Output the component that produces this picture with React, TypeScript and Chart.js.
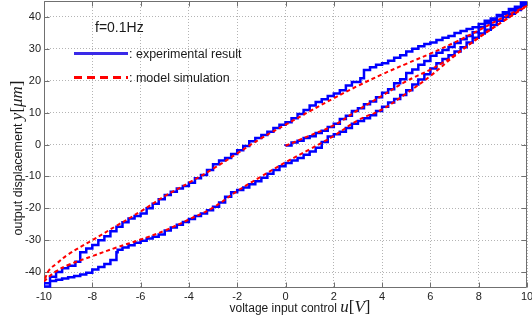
import React, { useEffect, useRef } from 'react';
import { Chart, registerables } from 'chart.js';

Chart.register(...registerables);

// ---- tick labels ----
const xTicks = [-10, -8, -6, -4, -2, 0, 2, 4, 6, 8, 10];
const yTicks = [-40, -30, -20, -10, 0, 10, 20, 30, 40];

// ---- experimental result (staircase) ----
// initial curve from origin
const expInitU = [0, 0.25, 0.5, 0.75, 1, 1.25, 1.5, 1.75, 2, 2.25, 2.5, 2.75, 3, 3.25, 3.5, 3.75, 4, 4.25, 4.5, 4.75, 5, 5.25, 5.5, 5.75, 6, 6.25, 6.5, 6.75, 7, 7.25, 7.5, 7.75, 8, 8.25, 8.5, 8.75, 9, 9.25, 9.5, 9.75, 10];
const expInitY = [-0.5, -0.3, 0.6, 1.2, 2.0, 2.6, 3.6, 4.3, 5.5, 6.5, 8.0, 9.0, 10.5, 11.4, 12.6, 13.5, 14.8, 16.2, 17.3, 19.2, 20.5, 22.4, 23.5, 25.0, 26.2, 27.8, 28.8, 29.6, 30.6, 31.8, 33.0, 34.0, 35.2, 36.8, 38.0, 39.0, 40.2, 41.0, 42.0, 43.0, 44.5];
// descending branch
const expDownU = [10, 9.75, 9.5, 9.25, 9, 8.75, 8.5, 8.25, 8, 7.75, 7.5, 7.25, 7, 6.75, 6.5, 6.25, 6, 5.75, 5.5, 5.25, 5, 4.75, 4.5, 4.25, 4, 3.75, 3.5, 3.25, 3.1, 2.75, 2.5, 2.25, 2, 1.75, 1.5, 1.25, 1, 0.75, 0.5, 0.25, 0, -0.25, -0.5, -0.75, -1, -1.25, -1.5, -1.75, -2, -2.25, -2.5, -2.75, -3, -3.25, -3.5, -3.75, -4, -4.25, -4.5, -4.75, -5, -5.25, -5.5, -5.75, -6, -6.25, -6.5, -6.75, -7, -7.25, -7.5, -7.75, -8, -8.25, -8.5, -8.7, -9, -9.25, -9.5, -9.75, -10];
const expDownY = [44.5, 44.0, 43.2, 42.5, 41.5, 40.6, 39.5, 38.8, 37.8, 36.8, 36.2, 35.6, 35.0, 34.0, 33.5, 32.8, 32.0, 31.5, 30.8, 30.0, 29.2, 28.0, 27.2, 26.3, 25.5, 25.0, 24.2, 23.4, 20.8, 19.6, 18.5, 17.0, 16.0, 15.2, 14.2, 13.3, 12.2, 10.8, 9.6, 8.2, 7.0, 6.2, 5.2, 4.0, 3.0, 2.0, 1.0, -0.5, -1.8, -3.0, -4.2, -5.0, -6.2, -8.0, -9.6, -10.6, -12.0, -13.0, -13.8, -14.8, -15.8, -17.2, -18.6, -20.0, -21.6, -22.4, -23.2, -24.4, -25.8, -27.2, -28.8, -30.0, -31.5, -32.6, -33.8, -36.8, -38.0, -38.8, -40.0, -41.5, -44.5];
// ascending branch
const expUpU = [-10, -9.75, -9.5, -9.25, -9, -8.75, -8.5, -8.25, -8, -7.75, -7.5, -7.25, -7, -6.95, -6.75, -6.5, -6.25, -6, -5.75, -5.5, -5.25, -5, -4.75, -4.5, -4.25, -4, -3.75, -3.5, -3.25, -3, -2.75, -2.5, -2.25, -2, -1.75, -1.5, -1.25, -1, -0.75, -0.5, -0.25, 0, 0.25, 0.5, 0.75, 1, 1.25, 1.5, 1.75, 2, 2.25, 2.5, 2.75, 3, 3.25, 3.5, 3.75, 4, 4.25, 4.5, 4.75, 5, 5.25, 5.5, 5.75, 6, 6.25, 6.5, 6.75, 7, 7.25, 7.5, 7.75, 8, 8.25, 8.5, 8.75, 9, 9.25, 9.5, 9.75, 10];
const expUpY = [-44.5, -43.5, -42.8, -42.4, -42.0, -41.6, -41.2, -40.8, -40.2, -39.2, -38.4, -37.5, -36.2, -33.8, -33.0, -32.3, -31.6, -30.8, -30.2, -29.5, -28.9, -28.2, -27.0, -26.0, -25.2, -24.3, -23.4, -22.4, -21.6, -20.6, -19.5, -18.2, -16.4, -15.0, -14.3, -13.5, -12.5, -11.5, -10.4, -9.2, -8.0, -6.8, -5.8, -5.0, -4.2, -3.2, -2.2, -1.0, 0.8, 2.5, 3.2, 4.0, 5.2, 6.5, 7.4, 8.2, 9.2, 10.5, 11.8, 13.2, 14.3, 15.5, 17.0, 18.8, 20.4, 22.0, 23.8, 25.5, 26.8, 28.0, 29.2, 30.5, 32.0, 33.5, 34.8, 36.0, 37.5, 38.8, 40.0, 41.0, 42.2, 43.5];

// ---- model simulation ----
const modInitU = [0, 1, 2, 3, 4, 5, 6, 6.5, 7, 8, 9, 10];
const modInitY = [-0.4, 2.8, 6.0, 10.8, 15.3, 19.8, 23.5, 25.6, 28.0, 33.5, 38.6, 43.5];
const modDownU = [10, 9, 8, 7, 6, 5, 4, 3, 2, 1, 0, -1, -2, -3, -4, -5, -6, -7, -8, -9, -9.5, -9.8, -10];
const modDownY = [43.5, 39.8, 35.8, 32.0, 28.5, 25.3, 22.0, 18.4, 14.5, 10.4, 6.2, 2.0, -2.8, -7.6, -12.0, -16.2, -21.0, -25.5, -30.0, -34.5, -37.5, -39.5, -43.0];
const modUpU = [-10, -9.8, -9.5, -9, -8, -7, -6, -5, -4, -3, -2, -1, 0, 1, 2, 3, 4, 5, 6, 7, 8, 9, 10];
const modUpY = [-43.0, -41.5, -39.8, -37.8, -35.0, -32.3, -29.8, -27.0, -23.5, -19.8, -14.6, -10.0, -5.6, -1.5, 2.7, 7.6, 11.0, 16.0, 21.5, 27.8, 33.5, 38.6, 43.5];

const zip = (u: number[], y: number[]) => u.map((x, i) => ({ x, y: y[i] }));

const BLUE = '#0000ff';
const RED = '#ff0000';
const AXIS = '#707070';
const GRID = '#b4b4b4';
const SANS = "'Liberation Sans', Arial, sans-serif";
const SERIF = "'Liberation Serif', 'Times New Roman', serif";

type Part = { t: string; f: string };

function drawParts(ctx: CanvasRenderingContext2D, parts: Part[], cx: number, baseline: number) {
  let total = 0;
  for (const p of parts) {
    ctx.font = p.f;
    total += ctx.measureText(p.t).width;
  }
  let x = cx - total / 2;
  for (const p of parts) {
    ctx.font = p.f;
    ctx.fillText(p.t, x, baseline);
    x += ctx.measureText(p.t).width;
  }
}

const decorPlugin = {
  id: 'decor',
  beforeDatasetsDraw(chart: any) {
    const { ctx, chartArea: a, scales } = chart;
    const xs = scales.x;
    const ys = scales.y;
    ctx.save();
    ctx.strokeStyle = AXIS;
    ctx.lineWidth = 1;
    const L = Math.round(a.left) + 0.5;
    const R = Math.round(a.right) - 0.5;
    const T = Math.round(a.top) + 0.5;
    const B = Math.round(a.bottom) - 0.5;
    ctx.beginPath();
    ctx.rect(L, T, R - L, B - T);
    for (const v of xTicks) {
      const px = Math.round(xs.getPixelForValue(v)) + 0.5;
      ctx.moveTo(px, B);
      ctx.lineTo(px, B - 5);
      ctx.moveTo(px, T);
      ctx.lineTo(px, T + 5);
    }
    for (const v of yTicks) {
      const py = Math.round(ys.getPixelForValue(v)) + 0.5;
      ctx.moveTo(L, py);
      ctx.lineTo(L + 5, py);
      ctx.moveTo(R, py);
      ctx.lineTo(R - 5, py);
    }
    ctx.stroke();
    ctx.restore();
  },
  afterDraw(chart: any) {
    const { ctx } = chart;
    ctx.save();
    ctx.fillStyle = '#1a1a1a';
    ctx.textBaseline = 'alphabetic';
    ctx.textAlign = 'left';

    // x axis title
    drawParts(ctx, [
      { t: 'voltage input control ', f: `12px ${SANS}` },
      { t: 'u', f: `italic 17px ${SERIF}` },
      { t: '[', f: `17px ${SERIF}` },
      { t: 'V', f: `italic 17px ${SERIF}` },
      { t: ']', f: `17px ${SERIF}` },
    ], 300, 312);

    // y axis title (rotated)
    ctx.save();
    ctx.translate(22, 158);
    ctx.rotate(-Math.PI / 2);
    drawParts(ctx, [
      { t: 'output displacement ', f: `12.5px ${SANS}` },
      { t: 'y', f: `italic 17px ${SERIF}` },
      { t: '[', f: `17px ${SERIF}` },
      { t: 'μm', f: `italic 17px ${SERIF}` },
      { t: ']', f: `17px ${SERIF}` },
    ], 0, 0);
    ctx.restore();

    // annotation + legend
    ctx.font = `14px ${SANS}`;
    ctx.fillText('f=0.1Hz', 95, 31.5);

    ctx.lineWidth = 3;
    ctx.strokeStyle = '#3a2ae8';
    ctx.beginPath();
    ctx.moveTo(74, 53.5);
    ctx.lineTo(128, 53.5);
    ctx.stroke();

    ctx.strokeStyle = RED;
    ctx.setLineDash([8, 5]);
    ctx.beginPath();
    ctx.moveTo(74, 77.5);
    ctx.lineTo(128, 77.5);
    ctx.stroke();
    ctx.setLineDash([]);

    ctx.font = `12.5px ${SANS}`;
    ctx.fillText(': experimental result', 129, 57.5);
    ctx.fillText(': model simulation', 129, 81.5);
    ctx.restore();
  },
};

export default function App() {
  const ref = useRef<HTMLCanvasElement>(null);
  useEffect(() => {
    const canvas = ref.current!;
    const tickFont = { family: SANS, size: 11 };
    const redLine = {
      borderColor: RED,
      borderWidth: 2,
      borderDash: [4, 3],
      pointRadius: 0,
      tension: 0.4,
      fill: false,
    };
    const chart = new Chart(canvas, {
      type: 'line',
      data: {
        datasets: [
          { label: 'model init', data: zip(modInitU, modInitY), ...redLine },
          { label: 'model down', data: zip(modDownU, modDownY), ...redLine },
          { label: 'model up', data: zip(modUpU, modUpY), ...redLine },
          {
            label: 'experimental result',
            data: [...zip(expInitU, expInitY), ...zip(expDownU, expDownY), ...zip(expUpU, expUpY)],
            borderColor: BLUE,
            borderWidth: 2.5,
            pointRadius: 0,
            stepped: 'after',
            fill: false,
          },
        ],
      },
      options: {
        animation: false,
        responsive: false,
        maintainAspectRatio: false,
        layout: { autoPadding: false, padding: { top: 1, right: 5, left: 0, bottom: 0 } },
        plugins: {
          legend: { display: false },
          tooltip: { enabled: false },
        },
        scales: {
          x: {
            type: 'linear',
            min: -10,
            max: 10,
            afterBuildTicks: (s: any) => {
              s.ticks = xTicks.map((v) => ({ value: v }));
            },
            afterFit: (s: any) => {
              s.height = 34;
              s.paddingLeft = 0;
              s.paddingRight = 0;
            },
            ticks: { font: tickFont, color: '#222', padding: 2, maxRotation: 0, autoSkip: false },
            grid: { color: GRID, lineWidth: 1, drawTicks: false },
            border: { display: false, dash: [1, 2] },
          },
          y: {
            type: 'linear',
            min: -45,
            max: 45,
            afterBuildTicks: (s: any) => {
              s.ticks = yTicks.map((v) => ({ value: v }));
            },
            afterFit: (s: any) => {
              s.width = 44;
              s.paddingTop = 0;
              s.paddingBottom = 0;
            },
            ticks: { font: tickFont, color: '#222', padding: 3, autoSkip: false },
            grid: { color: GRID, lineWidth: 1, drawTicks: false },
            border: { display: false, dash: [1, 2] },
          },
        },
      } as any,
      plugins: [decorPlugin],
    });
    return () => chart.destroy();
  }, []);

  return (
    <div style={{ position: 'fixed', left: 0, top: 0, width: 532, height: 322, background: '#fff' }}>
      <canvas ref={ref} width={532} height={322} style={{ display: 'block', width: 532, height: 322 }} />
    </div>
  );
}
